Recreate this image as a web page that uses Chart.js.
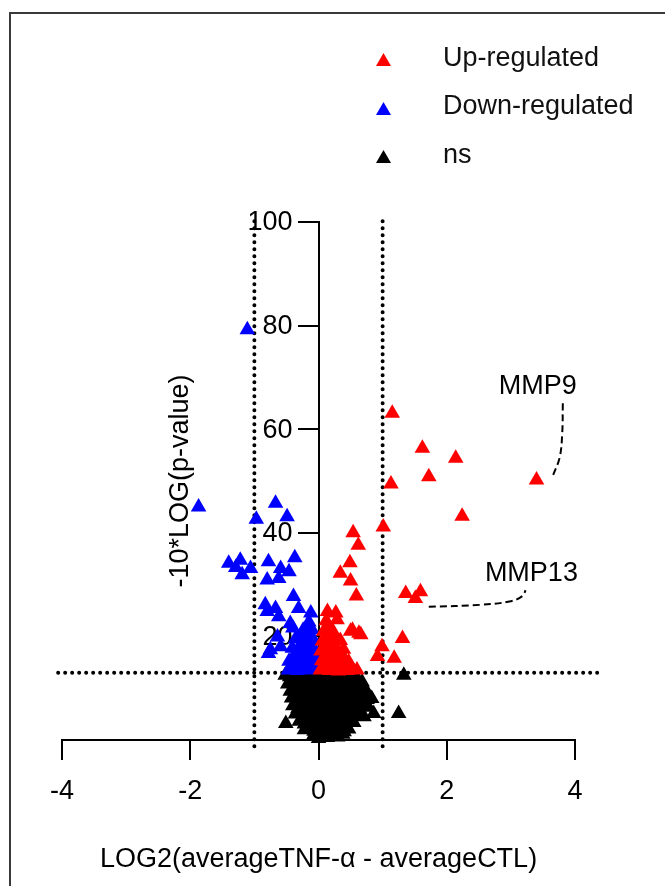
<!DOCTYPE html>
<html><head><meta charset="utf-8">
<script src="https://cdn.jsdelivr.net/npm/chart.js@4/dist/chart.umd.min.js"></script>
<style>
html,body{margin:0;padding:0;background:#fff;}
#wrap{position:relative;width:665px;height:886px;overflow:hidden;background:#fff;}
#frame{position:absolute;left:9px;top:12px;right:-10px;bottom:-10px;border-left:2px solid #3a3a3a;border-top:2px solid #3a3a3a;}
canvas{position:absolute;left:0;top:0;}
.lg{position:absolute;font-family:"Liberation Sans",Arial,sans-serif;font-size:27px;line-height:27px;color:#111;white-space:nowrap;}
.tri{position:absolute;width:15px;height:13px;clip-path:polygon(50% 0,100% 100%,0 100%);}
</style></head><body>
<div id="wrap">
<div id="frame"></div>
<canvas id="c" width="665" height="886"></canvas>
<div id="legend"></div>
</div>
<script>
// ---------------- data ----------------
const seriesNames = ['Up-regulated', 'Down-regulated', 'ns'];
const seriesColors = ['#ff0000', '#0000ff', '#000000'];
const xTicks = [-4, -2, 0, 2, 4];
const yTicks = [20, 40, 60, 80, 100];
const foldChangeCutoffs = [-1, 1];
const pValueCutoff = 13;

const upPoints = [
  [1.15,63.1],[1.62,56.3],[2.14,54.4],[1.72,50.8],[1.13,49.4],[3.40,50.2],[2.24,43.2],[1.01,41.1],
  [0.54,40.0],[0.62,37.6],[0.49,34.2],[0.34,32.2],[0.50,30.7],[0.59,27.8],[1.36,28.3],[1.59,28.6],
  [1.51,27.3],[1.31,19.6],[0.99,18.0],[0.92,16.1],[1.18,15.8],
  [0.03,13.5],[0.10,14.0],[0.17,13.4],[0.24,13.9],[0.31,13.3],[0.38,13.8],[0.45,13.4],[0.52,13.9],[0.60,13.5],
  [0.05,15.3],[0.12,15.8],[0.19,15.2],[0.26,15.9],[0.33,15.4],[0.40,15.8],[0.47,15.1],
  [0.04,17.2],[0.11,17.7],[0.18,17.1],[0.25,17.6],[0.32,17.0],[0.39,17.5],
  [0.06,19.1],[0.13,19.6],[0.20,19.0],[0.27,19.5],[0.34,19.2],
  [0.08,21.0],[0.15,21.5],[0.22,21.1],[0.53,21.2],[0.66,20.3],[0.50,21.0],[0.63,20.6],
  [0.12,23.0],[0.29,23.2],[0.14,24.8],[0.27,24.5]
];
const downPoints = [
  [-1.11,79.2],[-1.87,45.0],[-0.67,45.7],[-0.97,42.6],[-0.49,43.1],[-1.40,34.1],[-1.22,34.7],[-1.06,33.1],
  [-1.19,31.9],[-1.29,33.3],[-0.78,34.4],[-0.37,35.2],[-0.59,33.1],[-0.46,32.5],[-0.80,30.9],[-0.62,31.2],
  [-0.39,27.7],[-0.83,26.1],[-0.67,25.4],[-0.80,24.8],[-0.62,23.8],[-0.31,25.4],[-0.12,24.5],[-0.44,22.5],
  [-0.15,22.8],[-0.64,19.9],[-0.33,19.9],[-0.75,17.4],[-0.59,18.0],[-0.78,16.7],
  [-0.05,13.6],[-0.12,14.1],[-0.19,13.5],[-0.26,14.0],[-0.33,13.4],[-0.40,13.9],[-0.47,13.5],
  [-0.04,15.5],[-0.11,16.0],[-0.18,15.4],[-0.25,15.9],[-0.32,15.3],[-0.39,15.8],[-0.46,15.2],
  [-0.06,17.4],[-0.13,17.9],[-0.20,17.3],[-0.27,17.8],[-0.34,17.2],[-0.41,17.7],
  [-0.08,19.4],[-0.15,19.9],[-0.22,19.3],[-0.29,19.8],[-0.36,19.5],
  [-0.10,21.3],[-0.17,21.8],[-0.24,21.2],[-0.40,21.6]
];
const nsPoints = [
  [-0.52,12.5],[-0.45,12.2],[-0.38,12.6],[-0.30,12.1],[-0.22,12.7],[-0.15,12.3],[-0.08,12.8],[0.02,12.4],
  [0.10,12.7],[0.18,12.2],[0.26,12.6],[0.34,12.0],[0.42,12.5],[0.50,12.1],[0.58,12.4],[1.33,12.5],
  [-0.48,10.8],[-0.40,11.3],[-0.33,10.6],[-0.25,11.1],[-0.17,10.7],[-0.10,11.4],[-0.03,10.9],[0.05,11.2],
  [0.13,10.6],[0.21,11.3],[0.29,10.8],[0.37,11.1],[0.45,10.5],[0.53,11.0],[0.61,10.7],[0.68,11.2],
  [-0.44,9.4],[-0.36,9.9],[-0.28,9.2],[-0.20,9.7],[-0.12,9.1],[-0.05,9.8],[0.03,9.3],[0.11,9.9],
  [0.19,9.2],[0.27,9.6],[0.35,9.1],[0.43,9.8],[0.51,9.3],[0.59,9.7],[0.66,9.2],[0.74,9.6],
  [-0.42,8.1],[-0.34,7.6],[-0.26,8.3],[-0.18,7.8],[-0.11,8.4],[-0.04,7.7],[0.04,8.2],[0.12,7.6],
  [0.20,8.3],[0.28,7.9],[0.36,8.4],[0.44,7.7],[0.52,8.1],[0.60,7.6],[0.68,8.2],[0.76,7.8],[0.83,8.0],
  [-0.40,6.6],[-0.32,6.1],[-0.24,6.8],[-0.16,6.3],[-0.09,6.9],[-0.02,6.2],[0.06,6.7],[0.14,6.0],
  [0.22,6.6],[0.30,6.2],[0.38,6.9],[0.46,6.4],[0.54,6.8],[0.62,6.1],[0.70,6.5],[0.78,6.3],
  [0.86,5.1],[0.71,4.5],[1.25,5.1],
  [-0.36,5.0],[-0.28,5.4],[-0.20,4.8],[-0.13,5.3],[-0.06,4.7],[0.01,5.5],[0.09,4.9],[0.17,5.3],
  [0.25,4.6],[0.33,5.2],[0.41,4.8],[0.49,5.4],[0.57,4.7],[0.64,5.1],
  [-0.51,3.2],[-0.30,3.6],[-0.22,3.1],[-0.15,3.8],[-0.08,3.3],[0.00,3.9],[0.07,3.2],[0.15,3.7],
  [0.23,3.0],[0.31,3.6],[0.39,3.2],[0.47,3.8],[0.55,3.4],
  [-0.22,2.0],[-0.14,2.4],[-0.07,1.7],[0.01,2.3],[0.08,1.8],[0.16,2.4],[0.24,1.9],[0.32,2.2],[0.40,1.6],[0.47,2.1],
  [-0.08,0.8],[0.00,0.3],[0.06,0.9],[0.14,0.5],[0.22,1.0],[0.30,0.6],[0.38,1.1]
];
// labelled genes and their dashed leader lines (data coordinates)
const geneLabels = ['MMP9', 'MMP13'];
const geneLabelAnchors = [[3.42, 68.3], [3.32, 32.2]];
const mmp9Leader = [[3.81, 65.0], [3.80, 59.0], [3.76, 54.5], [3.66, 51.2]];
const mmp13Leader = [[1.72, 25.7], [2.53, 26.1], [3.00, 26.8], [3.18, 27.8], [3.23, 28.9]];

// ---------------- chart ----------------
const F = '"Liberation Sans", Arial, sans-serif';
const toXY = a => a.map(p => ({x: p[0], y: p[1]}));

function pointSet(label, pts, color, order) {
  return {type: 'scatter', label, data: toXY(pts), backgroundColor: color, borderColor: color,
    borderWidth: 0, pointStyle: 'triangle', pointRadius: 9, order, clip: false};
}
function dotted(pts) {
  return {type: 'line', data: toXY(pts), showLine: true, borderColor: '#000', borderWidth: 4,
    borderDash: [0, 7], borderCapStyle: 'round', pointRadius: 0, fill: false, tension: 0, order: 20, clip: false};
}
function dashed(pts) {
  return {type: 'line', data: toXY(pts), showLine: true, borderColor: '#000', borderWidth: 2,
    borderDash: [7, 4], pointRadius: 0, fill: false, tension: 0.4, order: 15, clip: false};
}

const datasets = [
  dotted([[foldChangeCutoffs[0], -1.2], [foldChangeCutoffs[0], 101.5]]),
  dotted([[foldChangeCutoffs[1], -1.2], [foldChangeCutoffs[1], 101.5]]),
  dotted([[-4.06, pValueCutoff], [4.37, pValueCutoff]]),
  dashed(mmp9Leader),
  dashed(mmp13Leader),
  pointSet(seriesNames[2], nsPoints, seriesColors[2], 5),
  pointSet(seriesNames[1], downPoints, seriesColors[1], 4),
  pointSet(seriesNames[0], upPoints, seriesColors[0], 3)
];

const textPlugin = {
  id: 'texts',
  beforeDatasetsDraw(chart) {
    // y tick labels, left of the tick marks of the axis that sits at x = 0
    const {ctx, scales: {x, y}} = chart;
    const ax = x.getPixelForValue(0);
    ctx.save();
    ctx.fillStyle = '#000';
    ctx.font = '27px ' + F;
    ctx.textAlign = 'right';
    ctx.textBaseline = 'middle';
    yTicks.forEach(v => ctx.fillText(String(v), ax - 26, y.getPixelForValue(v) + 1));
    ctx.restore();
  },
  afterDatasetsDraw(chart) {
    const {ctx, scales: {x, y}} = chart;
    ctx.save();
    ctx.fillStyle = '#000';
    ctx.font = '27px ' + F;
    ctx.textAlign = 'center';
    ctx.textBaseline = 'middle';
    geneLabels.forEach((g, i) => {
      ctx.fillText(g, x.getPixelForValue(geneLabelAnchors[i][0]), y.getPixelForValue(geneLabelAnchors[i][1]));
    });
    ctx.translate(181, (y.top + y.bottom) / 2);
    ctx.rotate(-Math.PI / 2);
    ctx.fillText('-10*LOG(p-value)', 0, 0);
    ctx.restore();
  }
};

new Chart(document.getElementById('c'), {
  type: 'scatter',
  data: {datasets},
  options: {
    responsive: false, animation: false, events: [],
    layout: {padding: {left: 62, right: 90, top: 222, bottom: 10}},
    plugins: {legend: {display: false}, tooltip: {enabled: false}},
    scales: {
      x: {
        type: 'linear', min: -4, max: 4, position: 'bottom',
        afterBuildTicks: s => { s.ticks = xTicks.map(v => ({value: v})); },
        ticks: {color: '#000', font: {size: 27, family: F}, padding: 15},
        grid: {display: true, drawOnChartArea: false, drawTicks: true, tickLength: 20, color: '#000', lineWidth: 2},
        border: {display: true, color: '#000', width: 2},
        title: {display: true, text: 'LOG2(averageTNF-α - averageCTL)', color: '#000', font: {size: 27, family: F}, padding: {top: 0, bottom: 0}},
        afterFit: s => { s.height = 136; }
      },
      y: {
        type: 'linear', min: 0, max: 100, position: {x: 0},
        afterBuildTicks: s => { s.ticks = [0].concat(yTicks).map(v => ({value: v})); },
        ticks: {display: false},
        grid: {display: true, drawOnChartArea: false, drawTicks: true, tickLength: 20, color: '#000', lineWidth: 2},
        border: {display: true, color: '#000', width: 2}
      }
    }
  },
  plugins: [textPlugin]
});

// legend (HTML)
const lg = document.getElementById('legend');
const rowTop = [44, 92, 141];
const triTop = [53, 102, 150];
seriesNames.forEach((n, i) => {
  const t = document.createElement('div');
  t.className = 'tri';
  t.style.left = '376px'; t.style.top = triTop[i] + 'px'; t.style.background = seriesColors[i];
  lg.appendChild(t);
  const d = document.createElement('div');
  d.className = 'lg'; d.textContent = n;
  d.style.left = '443px'; d.style.top = rowTop[i] + 'px';
  lg.appendChild(d);
});
</script>
</body></html>
